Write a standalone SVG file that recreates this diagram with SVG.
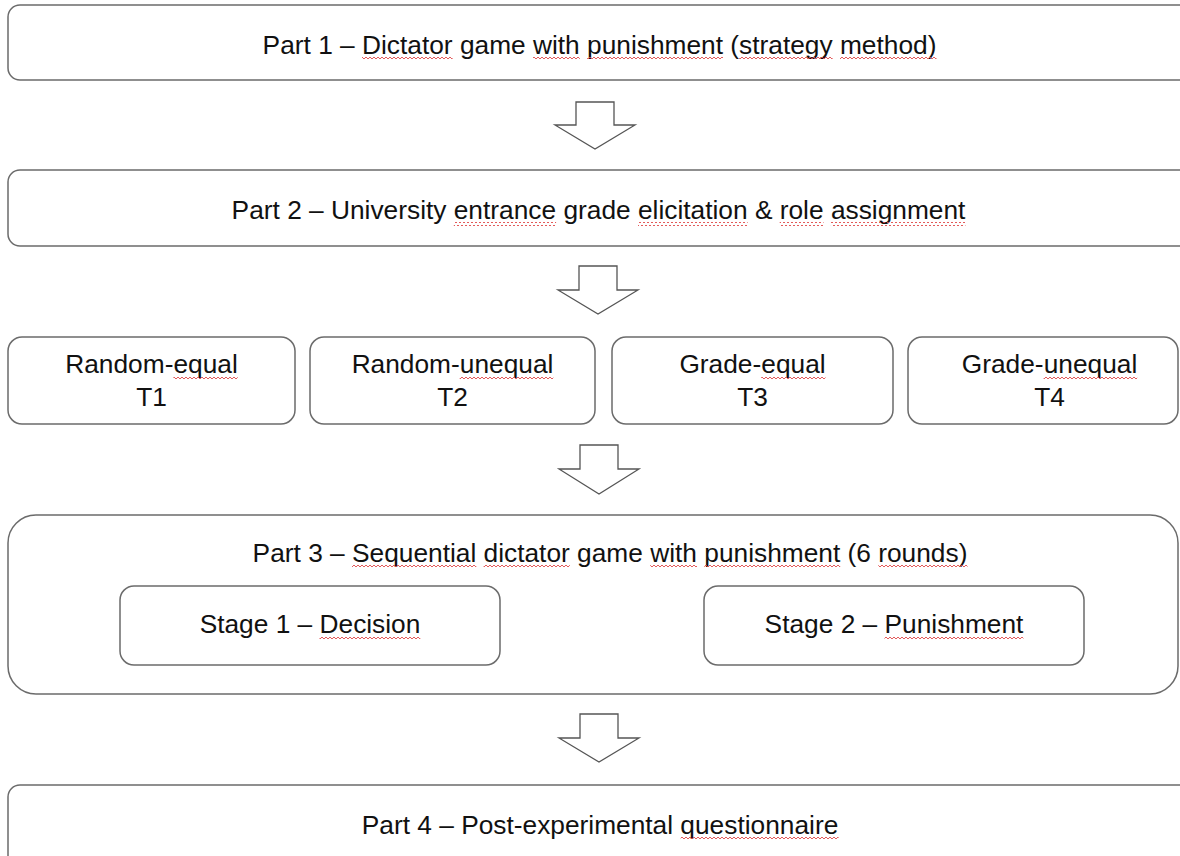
<svg xmlns="http://www.w3.org/2000/svg" width="1180" height="856" viewBox="0 0 1180 856">
<style>
.box{fill:#ffffff;stroke:#6b6b6b;stroke-width:1.5}
.t{font-family:"Liberation Sans",Arial,sans-serif;font-size:26.3px;fill:#111111;text-anchor:middle}
.arr{fill:#ffffff;stroke:#555555;stroke-width:1.3;stroke-linejoin:miter}
.sq{fill:url(#wave)}
</style>
<defs>
<pattern id="wave" patternUnits="userSpaceOnUse" width="4" height="4">
<path d="M0,3 L2,1 L4,3" fill="none" stroke="#e04848" stroke-width="0.9"/>
</pattern>
</defs>
<rect width="1180" height="856" fill="#ffffff"/>

<g id="part1">
<rect class="box" x="8" y="5" width="1190" height="75" rx="12"/>
<text class="t" x="599.5" y="54">Part 1 – Dictator game with punishment (strategy method)</text>
<rect class="sq" x="362" y="57" width="90.6" height="4"/>
<rect class="sq" x="533" y="57" width="46.8" height="4"/>
<rect class="sq" x="587.1" y="57" width="135.9" height="4"/>
<rect class="sq" x="739.1" y="57" width="93.5" height="4"/>
<rect class="sq" x="840" y="57" width="96.5" height="4"/>
</g>

<g id="part2">
<rect class="box" x="8" y="170" width="1190" height="76" rx="12"/>
<text class="t" x="598.5" y="219">Part 2 – University entrance grade elicitation &amp; role assignment</text>
<rect class="sq" x="453.8" y="222" width="102.3" height="4"/>
<rect class="sq" x="638" y="222" width="109.6" height="4"/>
<rect class="sq" x="779.7" y="222" width="43.8" height="4"/>
<rect class="sq" x="830.9" y="222" width="134.5" height="4"/>
</g>

<g id="t1">
<rect class="box" x="8" y="337" width="287" height="87" rx="14"/>
<text class="t" x="151.5" y="373">Random-equal</text>
<text class="t" x="151.5" y="406">T1</text>
<rect class="sq" x="173.4" y="376" width="64.3" height="4"/>
</g>
<g id="t2">
<rect class="box" x="310" y="337" width="285" height="87" rx="14"/>
<text class="t" x="452.5" y="373">Random-unequal</text>
<text class="t" x="452.5" y="406">T2</text>
<rect class="sq" x="459.7" y="376" width="93.6" height="4"/>
</g>
<g id="t3">
<rect class="box" x="612" y="337" width="281" height="87" rx="14"/>
<text class="t" x="752.5" y="373">Grade-equal</text>
<text class="t" x="752.5" y="406">T3</text>
<rect class="sq" x="761.2" y="376" width="64.3" height="4"/>
</g>
<g id="t4">
<rect class="box" x="908" y="337" width="270" height="87" rx="14"/>
<text class="t" x="1049.5" y="373">Grade-unequal</text>
<text class="t" x="1049.5" y="406">T4</text>
<rect class="sq" x="1043.6" y="376" width="93.6" height="4"/>
</g>

<g id="part3">
<rect class="box" x="8" y="515" width="1170" height="179" rx="28"/>
<text class="t" x="610" y="562">Part 3 – Sequential dictator game with punishment (6 rounds)</text>
<rect class="sq" x="352" y="565" width="124.3" height="4"/>
<rect class="sq" x="483.6" y="565" width="86.2" height="4"/>
<rect class="sq" x="650.2" y="565" width="46.8" height="4"/>
<rect class="sq" x="704.3" y="565" width="135.9" height="4"/>
<rect class="sq" x="878.3" y="565" width="89.2" height="4"/>
</g>
<g id="stage1">
<rect class="box" x="120" y="586" width="380" height="79" rx="14"/>
<text class="t" x="310" y="633">Stage 1 – Decision</text>
<rect class="sq" x="319.5" y="636" width="100.8" height="4"/>
</g>
<g id="stage2">
<rect class="box" x="704" y="586" width="380" height="79" rx="14"/>
<text class="t" x="894" y="633">Stage 2 – Punishment</text>
<rect class="sq" x="884.5" y="636" width="138.9" height="4"/>
</g>

<g id="part4">
<rect class="box" x="8" y="785" width="1190" height="90" rx="12"/>
<text class="t" x="600" y="834">Part 4 – Post-experimental questionnaire</text>
<rect class="sq" x="680.7" y="837" width="157.9" height="4"/>
</g>

<g id="connectors">
<path class="arr" d="M576,102 H614 V125 H635 L595,149 L555,125 H576 Z"/>
<path class="arr" d="M579,266 H617 V290 H638 L598,314 L558,290 H579 Z"/>
<path class="arr" d="M580,445 H618 V469 H639 L599,494 L559,469 H580 Z"/>
<path class="arr" d="M580,714 H618 V738 H639 L599,762 L559,738 H580 Z"/>
</g>
</svg>
